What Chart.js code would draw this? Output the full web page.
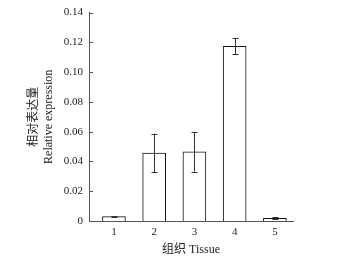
<!DOCTYPE html>
<html>
<head>
<meta charset="utf-8">
<script src="https://cdn.jsdelivr.net/npm/chart.js@4/dist/chart.umd.min.js"></script>
<style>
  html, body { margin: 0; padding: 0; background: #fff; }
  #wrap { width: 346px; height: 267px; }
</style>
</head>
<body>
<div id="wrap"><canvas id="tissueChart"></canvas></div>
<script>
// data
var categories = ["1", "2", "3", "4", "5"];
var expression = [0.0029, 0.0457, 0.0464, 0.1174, 0.0018];
var errors = [0.0005, 0.013, 0.0133, 0.0054, 0.0007];
var yTicks = [0, 0.02, 0.04, 0.06, 0.08, 0.10, 0.12, 0.14];

var fontFamily = "'Liberation Serif', 'Noto Sans CJK SC', serif";

// error bars + inward y ticks
var extrasPlugin = {
  id: "extras",
  afterDatasetsDraw: function (chart) {
    var ctx = chart.ctx;
    var xs = chart.scales.x, ys = chart.scales.y;
    ctx.save();
    ctx.strokeStyle = "#333";
    ctx.lineWidth = 1;
    expression.forEach(function (v, i) {
      var x = Math.round(xs.getPixelForValue(i + 1)) + 0.5;
      var top = ys.getPixelForValue(v + errors[i]);
      var bot = ys.getPixelForValue(v - errors[i]);
      ctx.beginPath();
      ctx.moveTo(x, top); ctx.lineTo(x, bot);
      ctx.moveTo(x - 3, Math.round(top) + 0.5); ctx.lineTo(x + 3, Math.round(top) + 0.5);
      ctx.moveTo(x - 3, Math.round(bot) + 0.5); ctx.lineTo(x + 3, Math.round(bot) + 0.5);
      ctx.stroke();
    });
    ctx.strokeStyle = "#555";
    yTicks.forEach(function (t) {
      var y = Math.round(ys.getPixelForValue(t)) + 0.5;
      ctx.beginPath();
      ctx.moveTo(xs.left, y); ctx.lineTo(xs.left + 4, y);
      ctx.stroke();
    });
    ctx.restore();
  }
};

var ctx = document.getElementById("tissueChart").getContext("2d");
var tissueChart = new Chart(ctx, {
  type: "bar",
  data: {
    datasets: [
      {
        label: "Relative expression",
        data: expression.map(function (v, i) { return { x: i + 1, y: v }; }),
        backgroundColor: "#ffffff",
        borderColor: "#111111",
        borderWidth: 1,
        barThickness: 23,
      },
    ],
  },
  options: {
    responsive: true,
    maintainAspectRatio: false,
    animation: false,
    layout: { padding: { top: 8, right: 53, bottom: 0, left: 0 } },
    plugins: {
      legend: { display: false },
      tooltip: { enabled: false },
    },
    scales: {
      x: {
        type: "linear",
        offset: false,
        min: 0.38,
        max: 5.45,
        afterBuildTicks: function (scale) {
          scale.ticks = categories.map(function (c, i) { return { value: i + 1 }; });
        },
        afterFit: function (scale) { scale.height = 46; },
        grid: { display: false, drawTicks: false, offset: false },
        border: { display: true, color: "#555", width: 1 },
        ticks: {
          padding: 5,
          color: "#222",
          font: { family: fontFamily, size: 11 },
          callback: function (value) { return categories[value - 1]; },
        },
        title: {
          display: true,
          text: "组织 Tissue",
          color: "#222",
          padding: { top: 2, bottom: 10 },
          font: { family: fontFamily, size: 12 },
        },
      },
      y: {
        min: 0,
        max: 0.14,
        afterBuildTicks: function (scale) {
          scale.ticks = yTicks.map(function (t) { return { value: t }; });
        },
        afterFit: function (scale) { scale.width = 89; },
        grid: { display: false, drawTicks: false },
        border: { display: true, color: "#555", width: 1 },
        ticks: {
          padding: 6,
          color: "#222",
          font: { family: fontFamily, size: 11 },
          callback: function (value) { return value === 0 ? "0" : value.toFixed(2); },
        },
        title: {
          display: true,
          text: ["相对表达量", "Relative expression"],
          color: "#222",
          padding: { top: 27, bottom: 0 },
          font: { family: fontFamily, size: 12, lineHeight: 1.2 },
        },
      },
    },
  },
  plugins: [extrasPlugin],
});
</script>
</body>
</html>
